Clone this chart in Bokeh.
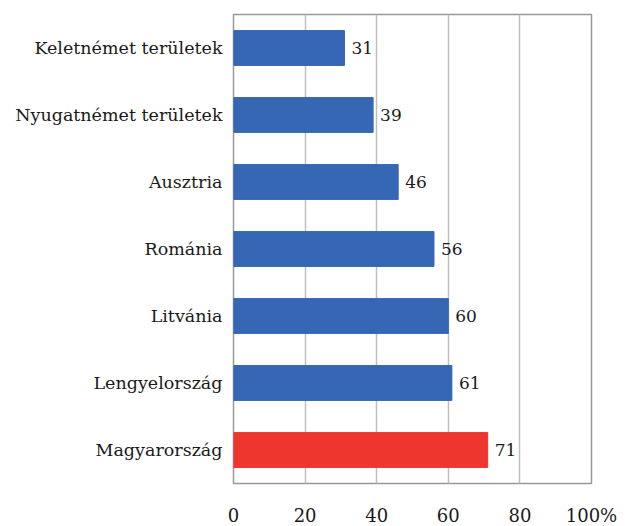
from bokeh.plotting import figure
from bokeh.models import ColumnDataSource, FactorRange, FixedTicker, Range1d
from bokeh.embed import file_html
from bokeh.resources import INLINE
from bokeh.core.properties import value

categories = ["Keletnémet területek", "Nyugatnémet területek", "Ausztria", "Románia",
              "Litvánia", "Lengyelország", "Magyarország"]
values = [31, 39, 46, 56, 60, 61, 71]
colors = ["#3567B5"] * 6 + ["#EE352E"]
x_ticks = [0, 20, 40, 60, 80, 100]
x_tick_labels = ["0", "20", "40", "60", "80", "100%"]

FONT = "DejaVu Serif"

src = ColumnDataSource(dict(cat=categories, val=values, col=colors,
                            lab=[str(v) for v in values]))

p = figure(y_range=FactorRange(*reversed(categories)), x_range=Range1d(0, 100),
           frame_width=358, frame_height=469, output_backend="svg", toolbar_location=None,
           min_border_left=233, min_border_right=41, min_border_top=14, min_border_bottom=43)

p.hbar(y="cat", right="val", left=0, height=0.52, color="col", source=src)
p.text(x="val", y="cat", text="lab", source=src, x_offset=7, text_align="left",
       text_baseline="middle", text_font=value(FONT), text_font_size="17px",
       text_color="#1a1a1a")

p.xaxis.ticker = FixedTicker(ticks=x_ticks)
p.xaxis.major_label_overrides = {t: l for t, l in zip(x_ticks, x_tick_labels)}
for ax in (p.xaxis, p.yaxis):
    ax.axis_line_color = None
    ax.major_tick_line_color = None
    ax.minor_tick_line_color = None
    ax.major_tick_out = 0
    ax.major_tick_in = 0
    ax.major_label_text_font = FONT
    ax.major_label_text_color = "#1a1a1a"
p.yaxis.major_label_text_font_size = "17.5px"
p.xaxis.major_label_text_font_size = "18px"
p.xaxis.major_label_standoff = 21
p.yaxis.major_label_standoff = 11

p.ygrid.grid_line_color = None
p.xgrid.ticker = FixedTicker(ticks=x_ticks)
p.xgrid.grid_line_color = "#BFBFBF"
p.xgrid.grid_line_width = 1.5
p.outline_line_color = "#999999"
p.outline_line_width = 1.5

open("out.html", "w").write(file_html(p, INLINE))
